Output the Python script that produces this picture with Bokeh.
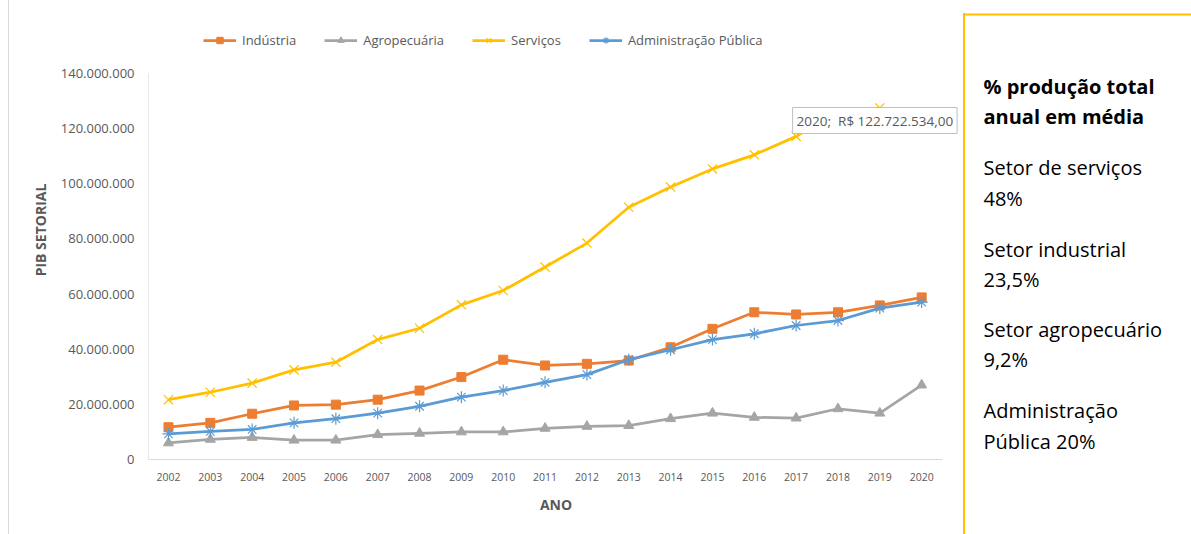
from bokeh.plotting import figure
from bokeh.models import Range1d, FixedTicker, Legend, LegendItem, Label
from bokeh.layouts import row
from bokeh.embed import file_html
from bokeh.resources import INLINE
from bokeh.core.properties import value

# ---- data (values in R$) ----
years = list(range(2002, 2021))
industria = [11.7e6, 13.3e6, 16.6e6, 19.6e6, 19.9e6, 21.7e6, 25.0e6, 29.9e6, 36.2e6, 34.1e6,
             34.7e6, 35.9e6, 40.7e6, 47.4e6, 53.4e6, 52.6e6, 53.4e6, 55.9e6, 58.8e6]
agropecuaria = [6.0e6, 7.3e6, 8.0e6, 7.0e6, 7.0e6, 9.0e6, 9.5e6, 10.0e6, 10.0e6, 11.3e6,
                12.0e6, 12.3e6, 14.8e6, 16.8e6, 15.3e6, 15.0e6, 18.4e6, 16.8e6, 27.0e6]
servicos = [21.7e6, 24.4e6, 27.7e6, 32.5e6, 35.3e6, 43.5e6, 47.6e6, 56.1e6, 61.3e6, 69.8e6,
            78.5e6, 91.5e6, 98.8e6, 105.4e6, 110.5e6, 117.2e6, 126.0e6, 127.5e6, 122722534.0]
administracao = [9.3e6, 10.2e6, 10.9e6, 13.3e6, 14.8e6, 16.8e6, 19.3e6, 22.6e6, 25.0e6, 28.0e6,
                 30.8e6, 36.2e6, 39.8e6, 43.5e6, 45.6e6, 48.6e6, 50.4e6, 54.9e6, 57.1e6]
series_names = ["Indústria", "Agropecuária", "Serviços", "Administração Pública"]
y_ticks = [0, 20e6, 40e6, 60e6, 80e6, 100e6, 120e6, 140e6]
tooltip_text = "2020;\u00a0\u00a0R$ 122.722.534,00"
panel_title = ["% produção total", "anual em média"]
panel_lines = ["Setor de serviços", "48%", "Setor industrial", "23,5%",
               "Setor agropecuário", "9,2%", "Administração", "Pública 20%"]

GRAY = "#595959"
FONT = "Open Sans"

p = figure(width=963, height=534, x_range=Range1d(2001.5227, 2021.0),
           y_range=Range1d(0, 166.48e6),
           output_backend="svg", toolbar_location=None,
           min_border_left=148, min_border_right=0, min_border_top=0, min_border_bottom=75)
p.outline_line_color = None
p.border_fill_color = None
p.xgrid.grid_line_color = None
p.ygrid.grid_line_color = None
p.styles = {"background": "linear-gradient(to right, #fff 8px, #D9D9D9 8px, #D9D9D9 9px, #fff 9px)"}

colors = ["#ED7D31", "#A5A5A5", "#FFC000", "#5B9BD5"]
data = [industria, agropecuaria, servicos, administracao]
markers = ["square", "triangle", "x", "asterisk"]
msizes = [9, 10, 13, 12]
items = []
for name, ys, c, m, s in zip(series_names, data, colors, markers, msizes):
    r1 = p.line(years, ys, line_color=c, line_width=2.75)
    if m in ("x", "asterisk"):
        r2 = p.scatter(years, ys, marker=m, size=s, line_color=c, line_width=1.2)
    else:
        r2 = p.scatter(years, ys, marker=m, size=s, fill_color=c, line_color=c)
    items.append(LegendItem(label=name, renderers=[r1, r2]))

legend = Legend(items=items, orientation="horizontal", location=(55, 410),
                label_text_font=FONT, label_text_font_size="13px", label_text_color=GRAY,
                glyph_width=33, glyph_height=16, spacing=28, padding=5, margin=0,
                border_line_color=None, background_fill_alpha=0, label_standoff=6)
p.add_layout(legend)

p.xaxis.ticker = FixedTicker(ticks=years)
p.xaxis.bounds = (2001.5227, 2020.5)
p.xaxis.major_tick_line_color = None
p.xaxis.minor_tick_line_color = None
p.xaxis.major_tick_out = 0
p.xaxis.major_tick_in = 0
p.xaxis.axis_line_color = "#D9D9D9"
p.xaxis.major_label_text_font = FONT
p.xaxis.major_label_text_font_size = "10.5px"
p.xaxis.major_label_text_color = GRAY
p.xaxis.major_label_standoff = 13
p.xaxis.axis_label = "ANO"
p.xaxis.axis_label_text_font = FONT
p.xaxis.axis_label_text_font_style = "bold"
p.xaxis.axis_label_text_font_size = "14px"
p.xaxis.axis_label_text_color = GRAY
p.xaxis.axis_label_standoff = 11

p.yaxis.ticker = FixedTicker(ticks=y_ticks)
p.yaxis.bounds = (0, 140e6)
p.yaxis.major_label_overrides = {t: f"{int(t):,}".replace(",", ".") for t in y_ticks}
p.yaxis.major_tick_line_color = None
p.yaxis.minor_tick_line_color = None
p.yaxis.major_tick_out = 0
p.yaxis.major_tick_in = 0
p.yaxis.axis_line_color = "#E6E6E6"
p.yaxis.major_label_text_font = FONT
p.yaxis.major_label_text_font_size = "13px"
p.yaxis.major_label_text_color = GRAY
p.yaxis.major_label_standoff = 14
p.yaxis.axis_label = "PIB SETORIAL"
p.yaxis.axis_label_text_font = FONT
p.yaxis.axis_label_text_font_style = "bold"
p.yaxis.axis_label_text_font_size = "14px"
p.yaxis.axis_label_text_color = GRAY
p.yaxis.axis_label_standoff = 8

tip = Label(x=2016.916, y=118.24e6, text=tooltip_text, text_font=FONT, text_font_size="13.5px",
            text_color=GRAY, background_fill_color="white", border_line_color="#BFBFBF",
            padding=4)
p.add_layout(tip)

# ---- side panel (data coordinates = page pixels) ----
q = figure(width=228, height=534, x_range=Range1d(963, 1191), y_range=Range1d(459, 0),
           output_backend="svg", toolbar_location=None,
           min_border_left=0, min_border_right=0, min_border_top=0, min_border_bottom=75)
q.axis.visible = False
q.grid.grid_line_color = None
q.outline_line_color = None
q.border_fill_color = None
q.background_fill_color = None
q.styles = {"background": "linear-gradient(to bottom, #fff 13px, #FFC000 13px) no-repeat left top / 2px 100%"}
q.segment(x0=[963], y0=[14], x1=[1191], y1=[14], line_color="#FFC000", line_width=2)
q.text(x=[983] * 2, y=[86, 116], text=panel_title, text_font=value(FONT), text_font_size="20px",
       text_font_style="bold", text_color="black", text_baseline="middle")
q.text(x=[983] * 8, y=[167, 198, 249, 279, 329, 359, 410, 441], text=panel_lines,
       text_font=value(FONT), text_font_size="20px", text_color="black", text_baseline="middle")

layout = row(p, q)
open("out.html", "w").write(file_html(layout, INLINE))
